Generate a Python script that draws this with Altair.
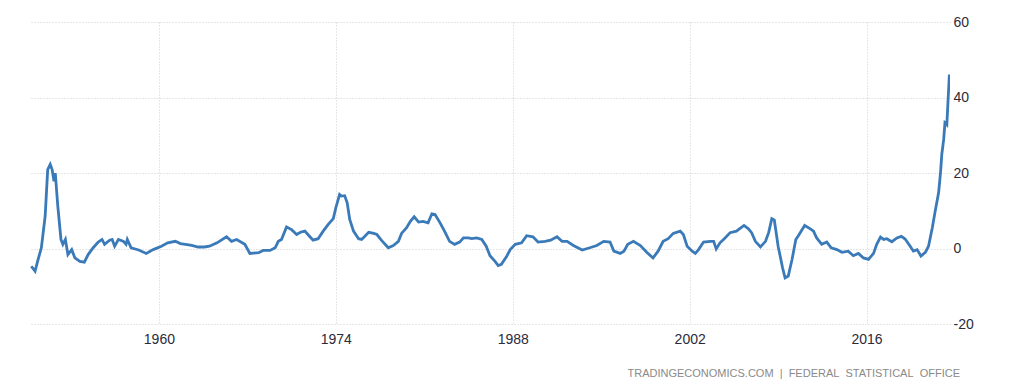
import altair as alt
import pandas as pd

years = [
    1949.9, 1950.2, 1950.4, 1950.7, 1951.0, 1951.2, 1951.4, 1951.55, 1951.7, 1951.8,
    1952.0, 1952.25, 1952.4, 1952.6, 1952.8, 1953.1, 1953.35, 1953.75, 1954.1, 1954.4,
    1954.8, 1955.2, 1955.5, 1955.7, 1956.1, 1956.3, 1956.5, 1956.8, 1957.2, 1957.4,
    1957.5, 1957.8, 1958.4, 1959.0, 1959.55, 1960.2, 1960.7, 1961.3, 1961.7, 1962.1,
    1962.6, 1963.1, 1963.6, 1964.0, 1964.6, 1965.35, 1965.75, 1966.15, 1966.8, 1967.2,
    1967.9, 1968.25, 1968.8, 1969.2, 1969.45, 1969.7, 1970.1, 1970.5, 1970.9, 1971.2,
    1971.55, 1971.95, 1972.2, 1972.6, 1973.0, 1973.4, 1973.8, 1974.0, 1974.3, 1974.45,
    1974.7, 1974.9, 1975.1, 1975.4, 1975.8, 1976.05, 1976.6, 1977.0, 1977.25, 1977.6,
    1978.15, 1978.55, 1978.95, 1979.2, 1979.6, 1979.9, 1980.2, 1980.55, 1980.9, 1981.3,
    1981.6, 1981.85, 1982.25, 1982.6, 1983.0, 1983.4, 1983.8, 1984.1, 1984.5, 1984.75,
    1985.15, 1985.55, 1985.9, 1986.2, 1986.6, 1986.85, 1987.1, 1987.5, 1987.8, 1988.2,
    1988.7, 1989.1, 1989.6, 1990.0, 1990.55, 1991.0, 1991.5, 1991.9, 1992.3, 1992.8,
    1993.5, 1994.1, 1994.65, 1995.2, 1995.7, 1996.0, 1996.5, 1996.8, 1997.1, 1997.55,
    1998.1, 1998.6, 1999.1, 1999.5, 1999.9, 2000.3, 2000.7, 2001.25, 2001.5, 2001.8,
    2002.2, 2002.45, 2002.7, 2003.1, 2003.65, 2003.9, 2004.1, 2004.4, 2004.8, 2005.2,
    2005.7, 2006.3, 2006.65, 2006.9, 2007.2, 2007.6, 2008.0, 2008.25, 2008.5, 2008.7,
    2009.0, 2009.35, 2009.55, 2009.8, 2010.1, 2010.4, 2010.6, 2011.1, 2011.55, 2011.8,
    2012.05, 2012.45, 2012.85, 2013.2, 2013.65, 2014.05, 2014.55, 2014.95, 2015.35, 2015.75,
    2016.15, 2016.55, 2016.8, 2017.1, 2017.35, 2017.6, 2018.0, 2018.4, 2018.75, 2019.05,
    2019.45, 2019.7, 2020.0, 2020.3, 2020.65, 2020.9, 2021.2, 2021.45, 2021.7, 2021.85,
    2021.95, 2022.1, 2022.2, 2022.35, 2022.45, 2022.55,
]

values = [
    -4.7, -6.0, -3.4, 0.2, 8.6, 20.9, 22.3, 20.9, 17.8, 20.0,
    11.2, 2.4, 1.1, 2.4, -1.6, -0.3, -2.5, -3.4, -3.6, -1.6,
    0.2, 1.7, 2.4, 1.1, 2.2, 2.4, 0.6, 2.4, 1.9, 1.1,
    2.4, 0.2, -0.4, -1.3, -0.3, 0.6, 1.5, 1.9, 1.3, 1.1,
    0.8, 0.4, 0.4, 0.6, 1.5, 3.1, 1.9, 2.4, 1.1, -1.3,
    -1.1, -0.5, -0.5, 0.2, 1.9, 2.4, 5.7, 5.0, 3.7, 4.3,
    4.6, 3.1, 2.2, 2.6, 4.6, 6.4, 7.9, 10.8, 14.3, 13.9,
    14.0, 12.1, 7.7, 4.6, 2.6, 2.4, 4.3, 4.0, 3.7, 2.2,
    0.2, 0.8, 1.9, 4.0, 5.5, 7.2, 8.4, 7.0, 7.2, 6.8,
    9.2, 9.0, 6.8, 4.6, 1.9, 1.1, 1.7, 2.8, 2.8, 2.6,
    2.8, 2.4, 0.6, -1.9, -3.4, -4.5, -4.2, -2.2, -0.3, 1.1,
    1.5, 3.4, 3.1, 1.7, 1.9, 2.2, 3.1, 1.9, 1.9, 0.8,
    -0.4, 0.2, 0.8, 1.9, 1.7, -0.7, -1.3, -0.7, 1.1, 1.9,
    0.8, -1.0, -2.5, -0.7, 1.9, 2.6, 4.0, 4.6, 3.7, 0.6,
    -0.7, -1.3, -0.3, 1.7, 1.9, 1.9, -0.1, 1.5, 2.8, 4.2,
    4.6, 6.1, 5.2, 4.2, 1.9, 0.4, 1.9, 4.2, 7.9, 7.5,
    0.6, -5.1, -7.8, -7.3, -2.9, 2.4, 3.4, 6.1, 5.2, 4.6,
    2.8, 1.1, 1.7, 0.2, -0.3, -1.0, -0.7, -1.9, -1.3, -2.5,
    -2.9, -1.3, 1.1, 3.0, 2.4, 2.6, 1.8, 2.8, 3.2, 2.5,
    0.6, -0.7, -0.3, -2.0, -1.0, 0.6, 5.5, 10.3, 14.8, 20.1,
    24.9, 28.9, 33.3, 32.8, 39.5, 46.1,
]

x_ticks = [1960, 1974, 1988, 2002, 2016]
y_ticks = [-20, 0, 20, 40, 60]
NB = "\u00a0"
footer = f"TRADINGECONOMICS.COM{NB}{NB}|{NB}{NB}FEDERAL{NB}{NB}STATISTICAL{NB}{NB}OFFICE"

df = pd.DataFrame({"year": years, "value": values})

chart = (
    alt.Chart(df)
    .mark_line(color="#3a7ab8", strokeWidth=2.8, clip=True)
    .encode(
        x=alt.X(
            "year:Q",
            scale=alt.Scale(domain=[1949.8, 2022.6], nice=False, zero=False),
            axis=alt.Axis(
                values=x_ticks,
                format="d",
                title=None,
                grid=True,
                gridColor="#cfcfcf",
                gridDash=[1, 2],
                gridWidth=1,
                domain=False,
                ticks=False,
                labelPadding=8,
                labelFontSize=14,
                labelFont="Liberation Sans",
                labelColor="#2b2b3a",
            ),
        ),
        y=alt.Y(
            "value:Q",
            scale=alt.Scale(domain=[-20, 60], nice=False),
            axis=alt.Axis(
                orient="right",
                values=y_ticks,
                labelExpr="'' + datum.value",
                title=None,
                grid=True,
                gridColor="#cfcfcf",
                gridDash=[1, 2],
                gridWidth=1,
                domain=False,
                ticks=False,
                labelPadding=3,
                labelFontSize=14,
                labelFont="Liberation Sans",
                labelColor="#2b2b3a",
            ),
        ),
    )
    .properties(
        width=920,
        height=302,
        background="white",
        title=alt.TitleParams(
            text=footer,
            orient="bottom",
            anchor="end",
            frame="group",
            fontSize=11,
            font="Liberation Sans",
            fontWeight="normal",
            color="#8a8a8a",
            offset=22,
            dx=10,
        ),
        autosize=alt.AutoSizeParams(type="none"),
        padding={"left": 22, "top": 14, "right": 60, "bottom": 60},
    )
    .configure_view(strokeWidth=0, stroke=None)
)

chart.save("out.html", embed_options={"renderer": "svg", "actions": False})
